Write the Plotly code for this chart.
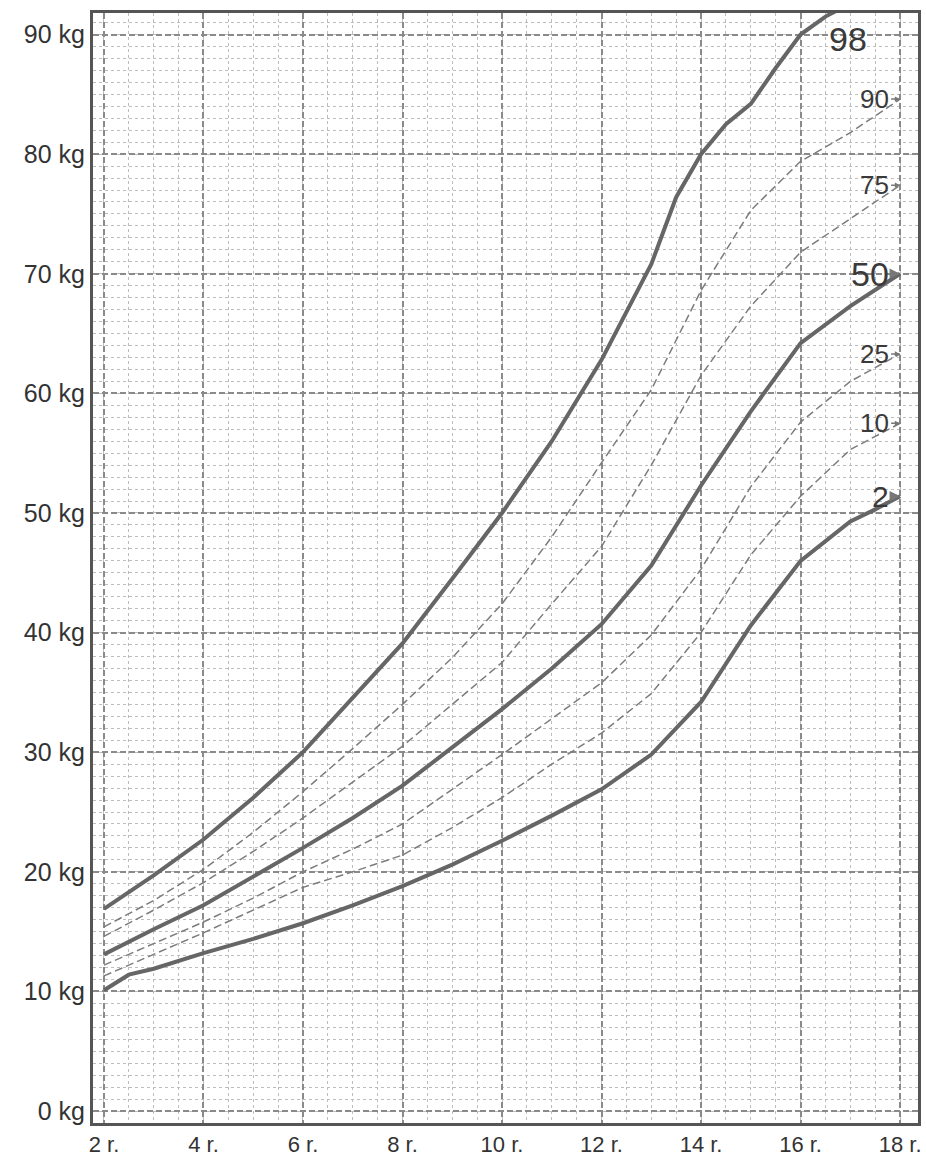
import plotly.graph_objects as go

# ---- data (age in years, weight in kg) ----
age_98 = [2, 3, 4, 5, 6, 7, 8, 9, 10, 11, 12, 13, 13.5, 14, 14.5, 15, 15.5, 16, 16.5, 17, 18]
p98 = [16.9, 19.7, 22.7, 26.2, 30.0, 34.6, 39.1, 44.5, 50.0, 56.0, 62.8, 70.8, 76.4, 80.0, 82.5, 84.2, 87.2, 90.0, 91.5, 92.6, 95.0]

ages = [2, 3, 4, 5, 6, 7, 8, 9, 10, 11, 12, 13, 14, 15, 16, 17, 18]
p90 = [15.4, 17.6, 20.2, 23.3, 26.7, 30.3, 34.0, 37.9, 42.4, 48.0, 54.2, 60.3, 68.6, 75.3, 79.4, 81.8, 84.6]
p75 = [14.6, 16.8, 19.1, 21.7, 24.5, 27.5, 30.5, 34.0, 37.5, 42.4, 47.2, 54.0, 61.5, 67.3, 71.8, 74.6, 77.4]
p50 = [13.1, 15.2, 17.2, 19.6, 22.0, 24.5, 27.2, 30.4, 33.6, 37.0, 40.7, 45.6, 52.3, 58.5, 64.2, 67.3, 70.0]
p25 = [12.2, 14.0, 15.8, 17.8, 20.0, 21.9, 24.0, 26.9, 29.8, 32.8, 35.8, 39.8, 45.3, 52.2, 57.6, 61.0, 63.3]
p10 = [11.3, 13.1, 14.9, 16.8, 18.7, 20.0, 21.4, 23.7, 26.2, 29.0, 31.6, 34.9, 40.0, 46.5, 51.4, 55.3, 57.5]

age_2 = [2, 2.5, 3, 4, 5, 6, 7, 8, 9, 10, 11, 12, 13, 14, 15, 16, 17, 17.5, 18]
p2 = [10.1, 11.4, 11.9, 13.2, 14.4, 15.7, 17.2, 18.8, 20.6, 22.6, 24.7, 26.9, 29.8, 34.2, 40.6, 46.0, 49.3, 50.3, 51.4]

x_ticks = [2, 4, 6, 8, 10, 12, 14, 16, 18]
x_tick_text = ["2 r.", "4 r.", "6 r.", "8 r.", "10 r.", "12 r.", "14 r.", "16 r.", "18 r."]
y_ticks = [0, 10, 20, 30, 40, 50, 60, 70, 80, 90]
y_tick_text = ["0 kg", "10 kg", "20 kg", "30 kg", "40 kg", "50 kg", "60 kg", "70 kg", "80 kg", "90 kg"]

# ---- figure ----
FONT = "Liberation Sans, Arial, Helvetica, sans-serif"
thick = dict(color="#666666", width=4)
thin = dict(color="#7c7c7c", width=1.5, dash="8px,4px")

fig = go.Figure()
series = [
    (age_98, p98, thick, "98"),
    (ages, p90, thin, "90"),
    (ages, p75, thin, "75"),
    (ages, p50, thick, "50"),
    (ages, p25, thin, "25"),
    (ages, p10, thin, "10"),
    (age_2, p2, thick, "2"),
]
for xs, ys, ln, name in series:
    fig.add_trace(go.Scatter(x=xs, y=ys, mode="lines", line=ln, name=name,
                             showlegend=False, hoverinfo="skip"))

# percentile labels at right end
label_specs = [("90", p90[-1], 26, False), ("75", p75[-1], 26, False),
               ("50", p50[-1], 34, True), ("25", p25[-1], 26, False),
               ("10", p10[-1], 26, False), ("2", p2[-1], 30, True)]
for txt, yv, fs, bold in label_specs:
    fig.add_annotation(x=18, y=yv, text=txt, showarrow=True, arrowhead=2,
                       arrowsize=0.7, arrowwidth=3 if bold else 1.5,
                       arrowcolor="#777", ax=-9, ay=0, xanchor="right",
                       font=dict(family=FONT, size=fs, color="#3a3a3a"))
fig.add_annotation(x=16.95, y=89.6, text="98", showarrow=False,
                   font=dict(family=FONT, size=34, color="#3a3a3a"))

fig.update_xaxes(range=[1.78, 18.36], tickmode="array", tickvals=x_ticks,
                 ticktext=x_tick_text, showgrid=True, gridcolor="#8a8a8a",
                 gridwidth=1.5, griddash="6px,3px",
                 minor=dict(dtick=0.5, showgrid=True, gridcolor="#bdbdbd",
                            gridwidth=1, griddash="dot"),
                 showline=True, linecolor="#555", linewidth=3, mirror=True,
                 ticks="", zeroline=False,
                 tickfont=dict(family=FONT, size=22, color="#333"))
fig.update_yaxes(range=[-1.0, 91.8], tickmode="array", tickvals=y_ticks,
                 ticktext=y_tick_text, showgrid=True, gridcolor="#8a8a8a",
                 gridwidth=1.5, griddash="6px,3px",
                 minor=dict(dtick=1, showgrid=True, gridcolor="#bdbdbd",
                            gridwidth=1, griddash="dot"),
                 showline=True, linecolor="#555", linewidth=3, mirror=True,
                 ticks="", zeroline=False,
                 tickfont=dict(family=FONT, size=25, color="#333"))

fig.update_layout(width=926, height=1159,
                  margin=dict(l=93, r=8, t=13, b=36, autoexpand=False),
                  paper_bgcolor="white", plot_bgcolor="white")

# remove the default page margin so the figure fills the window exactly
fig.write_html("out.html", config={"displayModeBar": False},
               post_script="document.body.style.margin='0';"
                           "document.body.style.overflow='hidden';")
